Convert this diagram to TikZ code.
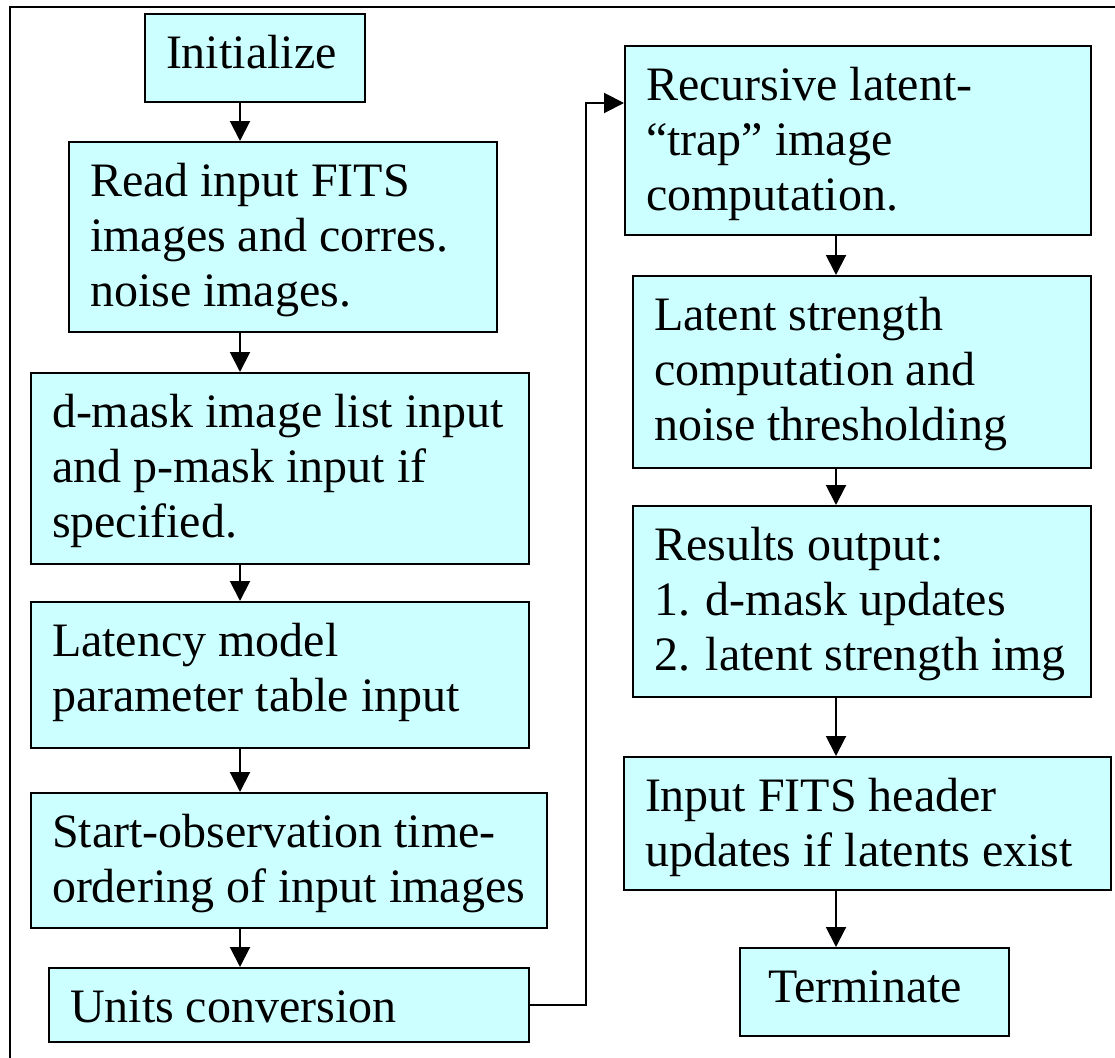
\documentclass[tikz,border=0pt]{standalone}
\usepackage{fontspec}
\setmainfont{Liberation Serif}
\usetikzlibrary{arrows.meta}
\definecolor{boxcyan}{HTML}{CCFFFF}
\newcommand{\bx}[4][21]{\parbox[c][#3pt][t]{#2pt}{\raggedright\leftskip=#1pt\rule{0pt}{54pt}#4}}
\tikzset{
  flow/.style={draw=black, line width=2pt, fill=boxcyan, inner sep=0pt, anchor=north west,
    font=\fontsize{48}{55}\selectfont},
  arr/.style={line width=2pt, -{Triangle[length=20pt,width=20pt]}},
  frameline/.style={line width=2.5pt}
}
\begin{document}
\begin{tikzpicture}[x=1pt,y=-1pt]
\useasboundingbox (0,0) rectangle (1115,1057);
% frame
\coordinate (fb) at (10,1060);
\coordinate (fc) at (10,7);
\coordinate (fr) at (1118,7);
\draw[frameline] (fb) -- (fc) -- (fr);
% left column
\node[flow] (init) at (144,13) {\bx{220}{88}{Initialize}};
\node[flow] (read) at (68,141) {\bx{428}{190}{Read input FITS\\images and corres.\\noise images.}};
\node[flow] (dmask) at (30,372) {\bx{498}{191}{d-mask image list input\\and p-mask input if\\specified.}};
\node[flow] (latency) at (30,601) {\bx{498}{146}{Latency model\\parameter table input}};
\node[flow] (start) at (30,792) {\bx{516}{135}{Start-observation time-\\ordering of input images}};
\node[flow] (units) at (48,967) {\bx{480}{74}{Units conversion}};
% right column
\node[flow] (recur) at (624,45) {\bx{466}{189}{Recursive latent-\\“trap” image\\computation.}};
\node[flow] (latent) at (632,275) {\bx{458}{192}{Latent strength\\computation and\\noise thresholding}};
\node[flow] (results) at (632,505) {\bx{458}{191}{Results output:\\1. d-mask updates\\2. latent strength img}};
\node[flow] (hdr) at (623,756) {\bx{487}{133}{Input FITS header\\updates if latents exist}};
\node[flow] (term) at (739,947) {\bx[28]{269}{88}{Terminate}};
% connector columns
\coordinate (lx) at (240,0);
\coordinate (rx) at (836,0);
\coordinate (lp) at (586,103);
\draw[arr] (init.south -| lx) -- (read.north -| lx);
\draw[arr] (read.south -| lx) -- (dmask.north -| lx);
\draw[arr] (dmask.south -| lx) -- (latency.north -| lx);
\draw[arr] (latency.south -| lx) -- (start.north -| lx);
\draw[arr] (start.south -| lx) -- (units.north -| lx);
\draw[arr] (units.east) -| (lp) -- (recur.west |- lp);
\draw[arr] (recur.south -| rx) -- (latent.north -| rx);
\draw[arr] (latent.south -| rx) -- (results.north -| rx);
\draw[arr] (results.south -| rx) -- (hdr.north -| rx);
\draw[arr] (hdr.south -| rx) -- (term.north -| rx);
\end{tikzpicture}
\end{document}
